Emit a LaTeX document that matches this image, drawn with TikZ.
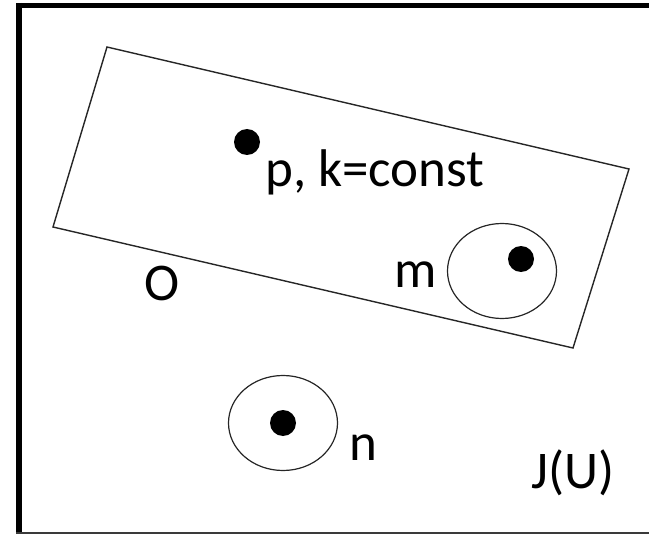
\documentclass[tikz,border=0pt]{standalone}
\usepackage{fontspec}
\setmainfont{Carlito}
\usepackage{tikz}
\usetikzlibrary{shapes.geometric}
\definecolor{framegray}{HTML}{3A3A3A}

\tikzset{
  lbl/.style={font=\fontsize{53}{63}\selectfont, inner sep=0pt, anchor=base west},
  bigdot/.style={circle, fill=black, minimum size=26pt, inner sep=0pt},
  ring/.style={ellipse, draw=black!85, line width=1.2pt, minimum width=109pt, minimum height=95pt, inner sep=0pt}
}

\begin{document}
\begin{tikzpicture}[x=1pt, y=-1pt]

  \useasboundingbox (0,0) rectangle (649,535);

  %% outer frame (right side runs off the page)
  \draw[black, line width=5pt] (649,5.5) -- (19,5.5);
  \draw[black, line width=6pt] (19,3) -- (19,534);
  \draw[framegray, line width=2pt] (16,533) -- (649,533);

  %% tilted box
  \coordinate (tl) at (107,47);
  \coordinate (tr) at (629,169);
  \coordinate (br) at (573,348);
  \coordinate (bl) at (53,227);
  \draw[black!85, line width=1.4pt, line join=miter] (tl) -- (tr) -- (br) -- (bl) -- cycle;

  %% points
  \node[bigdot] (p) at (247,142) {};
  \node[ring] (mring) at (502,271) {};
  \node[bigdot] (m) at (521,259) {};
  \node[ring] (nring) at (283,423) {};
  \node[bigdot] (n) at (283,423) {};

  %% labels
  \node[lbl] (plbl) at (265,186) {p, k=const};
  \node[lbl] (olbl) at (144,300) {O};
  \node[lbl] (mlbl) at (394,287) {m};
  \node[lbl] (nlbl) at (349,460) {n};
  \node[lbl] (jlbl) at (531,488) {J(U)};

\end{tikzpicture}
\end{document}
